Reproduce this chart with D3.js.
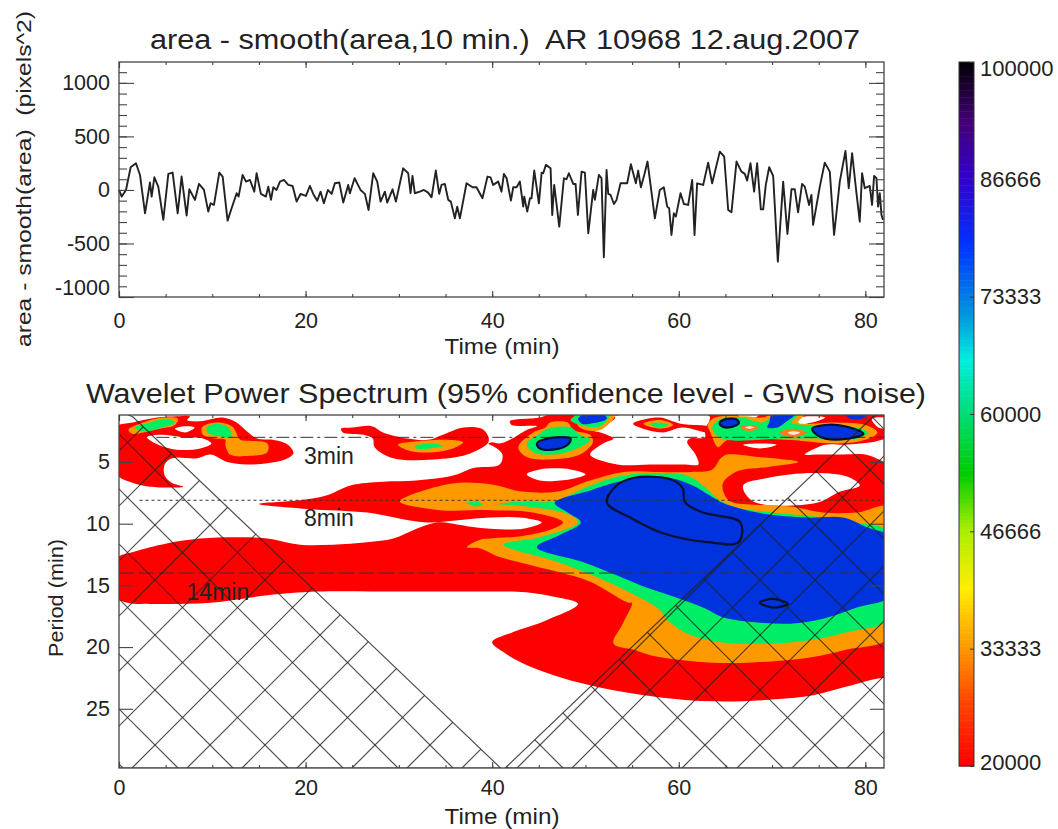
<!DOCTYPE html>
<html>
<head>
<meta charset="utf-8">
<script src="https://cdn.jsdelivr.net/npm/d3@7"></script>
<style>
  body { margin: 0; background: #fff; }
  svg { display: block; }
  text { font-family: "Liberation Sans", Arial, sans-serif; fill: #222; white-space: pre; }
</style>
</head>
<body>
<div id="chart"></div>
<script>
// top panel: area minus smoothed area
const seriesTime = [0,0.29,0.75,1.25,1.82,2.25,2.79,3.32,3.5,3.79,4.21,4.75,5.29,5.75,6.29,6.71,7.25,7.54,8.14,8.57,9.11,9.57,9.82,10.18,10.75,11.11,11.64,12.07,12.61,12.82,13.25,13.61,14.04,14.5,14.75,15.21,15.75,16,16.29,16.54,16.89,17.25,17.68,18.14,18.61,19.04,19.46,20.04,20.46,20.82,21.25,21.61,21.96,22.39,22.79,23.14,23.61,24.04,24.57,24.75,25.25,25.89,26.36,26.75,27.25,27.68,28.04,28.5,28.75,29.32,29.68,30.46,31,31.25,31.46,31.71,32.25,32.68,33.14,33.5,33.96,34.32,34.57,34.93,35.29,35.57,36,36.25,36.54,37.25,37.89,38.32,38.96,39.5,39.82,40.1,40.65,41,41.26,41.55,42.01,42.26,42.62,42.97,43.33,43.44,43.76,44.05,44.22,44.51,45.01,45.3,45.47,45.76,46.26,46.44,46.65,47.19,47.69,47.97,48.22,48.69,48.94,49.19,49.58,49.94,50.3,50.83,51.01,51.44,51.72,51.97,52.26,52.44,52.69,53.05,53.33,53.76,54.47,54.87,55.4,55.65,55.94,56.3,56.65,57.01,57.44,57.97,58.4,58.76,58.97,59.22,59.47,59.69,60.19,60.55,61.01,61.44,61.69,61.97,62.62,63.15,63.58,64.4,64.87,65.3,65.65,66.19,66.72,67.08,67.33,67.69,68.08,68.4,68.8,69.05,69.33,69.69,70.12,70.62,71.19,71.65,72.08,72.44,72.79,73.22,73.51,73.97,74.22,74.4,75.12,75.65,76.19,76.65,77.26,77.87,78.22,78.58,79.05,79.4,79.65,79.94,80.47,80.72,80.94,81.19,81.37,81.55,81.73,81.9];
const seriesArea = [0,-62,0,212,249,140,-218,69,-62,118,31,-280,150,162,-218,125,-240,6,-93,56,0,-202,-125,-140,162,125,-287,-171,-31,-62,140,78,93,-16,156,-37,-62,31,-93,25,0,78,93,47,37,-109,-37,-56,37,-37,-100,-16,-125,0,-37,62,69,-118,47,-31,109,0,-37,-187,156,78,-109,-16,-118,6,-109,202,156,-31,131,-31,-16,0,-25,-69,181,-37,47,56,-93,-109,-265,-156,-265,62,25,25,-78,125,118,47,78,-16,150,109,-100,25,25,78,-156,-62,-202,-78,-78,181,-125,162,156,234,202,-234,47,-343,109,100,156,56,56,-234,171,162,-405,0,-93,140,109,-629,187,-37,-47,-131,-93,62,62,240,62,181,25,140,265,25,-265,0,25,-156,-171,-421,-218,-249,-31,-131,-140,93,-421,62,47,255,62,358,311,-187,-209,265,171,150,87,249,-16,249,-181,-181,47,212,131,-670,78,-411,6,6,-209,56,31,-140,-47,-327,31,255,171,-421,78,364,16,343,-31,-296,156,16,37,-140,131,109,-156,-31,-234,-280];

// wavelet power contours as [time, period] rings, one array per level
const redRings = [
  [[15,8.4],[19.4,8.1],[22.3,7.7],[24.8,6.9],[28.3,6.6],[31.9,6.5],[35.8,6.1],[37.9,5.5],[40.8,5.2],[41.1,4.4],[40.5,3.9],[39.6,3.5],[40,3.4],[40.8,3.5],[41.9,3.2],[43.7,2.4],[44.8,2.1],[42.1,2],[41.9,1.7],[45.1,1.4],[46.4,1.1],[62.3,0.8],[82.7,0.8],[83.2,22.7],[81.9,22.5],[78,23.2],[74.4,23.9],[69,24.3],[63.7,24.4],[58.3,24.1],[53,23.5],[49.4,22.9],[45.9,22.1],[43,21.2],[41.2,20.4],[40,19.6],[42.2,18.8],[45.9,17.8],[49.2,16.5],[46.5,15.9],[44.1,15.6],[42.2,15.5],[39.8,15.5],[30.1,15.5],[21.2,15.5],[15.9,15.8],[9.8,16.4],[3.3,16.5],[0.9,16.4],[-0.4,15.9],[-0.4,12.9],[1.5,12.3],[5.1,11.6],[8.7,11.2],[13,11.1],[15.9,11.2],[19.4,11.7],[22.9,11.7],[26.6,11.5],[29.4,11.2],[31.9,10.4],[34.1,9.9],[37.3,10.2],[39.8,10.4],[43.3,10.4],[45.3,9.9],[43,9.5],[39.8,9.5],[36.6,9.7],[33.3,9.9],[30.9,9.7],[26.6,9.1],[20.2,8.8]],
  [[-0.4,2.2],[1.5,1.8],[4.1,1.4],[6.2,1.3],[7.6,1.3],[7.3,1.6],[8.7,1.7],[11.1,1.4],[12.6,1.8],[13.7,2.5],[14.8,3.1],[16.5,3.2],[18.1,3.6],[18.7,4.3],[17.8,4.8],[15.9,5.1],[13.7,5.2],[11.6,5],[9.8,4.4],[8.4,4.7],[5.7,4.7],[4.9,5.2],[4.9,6.1],[5.7,6.7],[6.9,7],[3.3,7],[1.5,6.7],[-0.4,5.9]],
  [[23.8,2.3],[25.1,2.2],[27.1,2.1],[28.3,2.6],[30.9,3.1],[33.1,3.2],[35.3,2.6],[36.9,2.2],[38.9,2.3],[39.5,2.8],[39.6,3.4],[37.3,4.4],[33.7,4.8],[29.4,4.7],[27.4,3.8],[27.2,3.1],[26.2,2.8],[24,2.6]]
];
const lowPowerGaps = [
  [[52.9,1.3],[63.3,1.3],[62.8,2.4],[62.8,3],[61.2,3.1],[60.9,3.4],[61.8,4.4],[62.1,5.2],[60.7,5.2],[56.9,5.2],[53.4,5.2],[50.5,4.4],[51.9,3.5],[53,3.1],[51.6,2.6],[50.5,2.4],[51.9,2.1],[53.2,1.4]],
  [[43.7,6],[45.1,5.6],[48.4,5.6],[50,6],[48.4,6.4],[45.1,6.5]],
  [[66.9,3.6],[68.7,3.5],[70.5,3.6],[68.7,3.9]],
  [[73.5,4.4],[75.7,3.6],[77.8,3.6],[80.7,3.4],[82.7,3.2],[82.7,5],[80,4.4],[77.5,4.4],[74.9,4.4]],
  [[72.8,1.5],[73.9,1.3],[75.7,1.4],[74.3,1.8],[72.8,1.9]],
  [[80.7,1.5],[82.5,1.5],[82.5,2.2],[81.4,2.2]],
  [[66.3,1.1],[68.7,1.1],[67.6,1.6],[66.8,1.5]],
  [[66.9,6.9],[69.5,6.3],[74.4,5.9],[78.1,6.2],[79.4,6.9],[77.3,7.4],[74.8,8.3],[68,8.2]],
  [[3,3],[4.4,2.8],[6.9,3],[9,3.1],[9.9,3.5],[8.7,3.9],[6.2,4],[4.2,3.6]],
  [[6,2.3],[7.1,2.1],[8.1,2.2],[7.1,2.6]]
];
const redIslands = [
  [[55.1,1.9],[56.6,1.5],[58,1.4],[60.2,1.9],[63.4,2.2],[63.4,2.6],[60.4,2.2],[58.3,2.6],[56.2,2.3]]
];
const orangeRings = [
  [[30.1,8.2],[32.3,7.4],[36.2,6.7],[39.8,6.8],[43.3,7.4],[47,7.4],[50.5,6.5],[54.1,5.8],[57.5,5.8],[61.3,5.8],[63.6,5.6],[64.5,4.7],[65.2,4.4],[68.6,4.6],[72.8,5],[69.6,5.4],[66.1,5.8],[64.7,6.8],[65.2,8],[65.9,8.3],[72,8.6],[75.5,9.1],[79.1,9.1],[82.7,8.7],[82.7,19.1],[78,20.2],[74.4,20.8],[70.9,21.1],[65.5,21.3],[60.9,21.1],[57.2,20.7],[55.1,20.2],[53,19.7],[54,18.1],[55,16.4],[54.6,16.4],[50.5,14.7],[47,13.9],[43.3,13.2],[40.8,12.7],[38.7,12],[37.3,11.9],[38.7,11.3],[39.8,11.2],[43.3,11],[46.2,10.5],[47.6,9.9],[44.4,9.1],[39.8,8.9],[34.4,8.9]],
  [[42.8,3.8],[44.4,2.6],[45.7,2.2],[46.2,1.8],[48.1,1.8],[48.7,2.4],[50.5,2.8],[50.8,3.4],[49.4,4.4],[46.2,4.8],[43.7,4.6]],
  [[48.9,1.1],[53.2,1.1],[51.6,2.4],[49.4,2.2]],
  [[56.2,1.9],[58,1.6],[59.4,2],[58,2.3]],
  [[1,2.4],[2.6,1.8],[4.7,1.4],[6.3,1.5],[6,2],[4.4,2.3],[2.6,2.6],[1.4,2.7]],
  [[8.9,2.2],[10.3,1.8],[12.1,2.1],[12.8,3],[13,3.2],[15.9,3.5],[15.9,4.2],[14,4.5],[11.9,4.4],[11.4,3.6],[11.4,3.2],[10.3,3.1],[9,2.8]],
  [[29.9,3.6],[32.3,3.3],[35.2,3.2],[36.9,3.4],[35.8,3.9],[33.7,4.2],[31.2,4.1]],
  [[63.1,2],[63.9,1.4],[67.1,1.3],[68.9,1.4],[70.3,1.1],[73.5,1.1],[72.8,1.8],[76.8,1.8],[80,2],[81.3,2.6],[80,3.2],[77.1,3.5],[71.4,3.2],[65.3,3.2],[64.2,3.8],[63.7,3.2],[63.4,2.6]]
];
const greenRings = [
  [[40.5,8.4],[43.7,8.2],[46.5,8.2],[50.5,6.9],[54,6.1],[57.7,5.9],[60.9,6.1],[62.6,6.9],[64.4,8.1],[66.3,8.7],[70.1,9.1],[75.5,9.5],[79.1,9.9],[82.7,10.8],[82.7,17.6],[78,18.8],[74.4,19.4],[70.1,19.7],[64.4,19.6],[60.9,18.9],[58.8,17.8],[58,17],[54.8,15.6],[50.8,14.2],[47,13.1],[41.2,11.7],[45.1,11.1],[49.2,9.9],[48.4,9.3],[43.7,8.6]],
  [[43.7,3.5],[45.1,2.7],[46,2.3],[48.4,2.2],[49.4,2.8],[50.5,3.2],[49.1,3.9],[46.5,4.4],[44.4,4.2]],
  [[48.4,1.6],[49.4,1.1],[52.6,1.1],[51.6,2.1],[49.4,2]],
  [[56.9,1.9],[58,1.8],[58.9,2],[57.8,2.2]],
  [[1.7,2.2],[3.3,1.8],[5.1,1.5],[6,1.8],[4.7,2.2],[2.6,2.5]],
  [[9.4,2.2],[10.5,1.9],[11.7,2.2],[12.1,3],[10.6,2.9],[9.5,2.6]],
  [[31.7,3.7],[33.7,3.5],[34.7,3.7],[33.3,3.9],[31.9,3.9]],
  [[63.6,2.3],[64.2,1.6],[66.8,1.4],[68.9,1.8],[70.6,1.1],[72.8,1.1],[72.1,1.8],[73.5,2],[75.7,2],[77.5,2],[80.3,2.6],[79.2,3.1],[77.5,3.2],[74.6,3.1],[71.4,3.1],[64.6,3.1]],
  [[37.3,8.3],[38.2,8.2],[39,8.4],[38.2,8.6]]
];
const smallRingOuter = [
  [[66.6,2.2],[67.4,2],[68.6,2.2],[67.6,2.5]],
  [[70.8,2.6],[72.2,2.3],[73.7,2.6],[72.2,3]]
];
const smallRingInner = [
  [[67.1,2.2],[67.6,2.1],[68.1,2.2],[67.6,2.3]],
  [[71.7,2.6],[72.2,2.5],[73,2.6],[72.2,2.8]]
];
const blueRings = [
  [[46.7,8.3],[50.5,7.3],[53,6.7],[56.6,6.2],[59.1,6.3],[61.5,6.9],[63.3,7.7],[64.7,8.3],[68.4,9.1],[73.7,9.5],[77.6,9.5],[80.2,10.3],[82.7,11.1],[82.7,15.8],[79.1,16.8],[75.5,17.7],[72,18.1],[68.4,18],[64.8,17.6],[62.6,16.8],[59.8,16],[56.6,15.2],[53.4,14.2],[49.7,13.1],[44.8,11.9],[47.3,10.9],[49.5,9.9],[48.1,9.1]],
  [[49.2,1.5],[50,1.1],[51.9,1.1],[52.3,1.5],[50.5,1.9],[49.6,1.9]],
  [[69.7,1.8],[70,1.1],[72.5,1.1],[71.4,1.8],[70.6,2.2],[69.5,2.2]],
  [[77.8,1.1],[80.3,1.1],[79.6,1.5],[78.4,1.5]]
];
// regions above the 95% level get the black outline
const confidenceRings = [
  [[52.3,8.3],[53.2,7],[55.1,6.3],[59.1,6.4],[60.4,7.1],[60.7,8.3],[62.6,9.1],[66.6,9.9],[66.4,11.5],[63.1,11.5],[58.4,10.8],[54.8,9.5]],
  [[68.7,16.4],[70.1,16.1],[71.7,16.5],[70.1,16.8]],
  [[44.8,3.5],[45.9,3.1],[48.4,3.1],[48.1,3.6],[46.5,4],[45.1,3.9]],
  [[64.4,1.8],[65.2,1.5],[66.3,1.6],[66.4,1.9],[65.3,2.2],[64.6,2.1]],
  [[74.3,2.3],[75.7,2],[77.8,2.1],[79.8,2.7],[78.1,3.1],[75.7,3.1],[74.8,2.8]]
];

// cone of influence, left and right wedge
const coneLeft = [[-1,0.5],[1.5,1.35],[40.9,29.8],[-1,29.8]];
const coneRight = [[41.4,29.8],[80.8,1.35],[83,0.5],[83,29.8]];

const periodLines = [3, 8.1, 14];
const periodLineStart = [4, 2.2, 0];
const periodLineDash = ["13,4,3,4", "3,3", "15,5"];
const periodLabels = ["3min", "8min", "14min"];
const periodLabelTime = [22.5, 22.5, 10.6];
const periodLabelPeriod = [4.5, 9.5, 15.5];

const timeTicks = [0, 20, 40, 60, 80];
const areaTicks = [1000, 500, 0, -500, -1000];
const periodTicks = [5, 10, 15, 20, 25];
const powerTicks = [100000, 86666, 73333, 60000, 46666, 33333, 20000];
const powerStops = [20000, 27000, 33333, 40000, 46666, 53000, 60000, 66000, 71000, 79000, 86666, 93000, 100000];
const powerColors = ["#ff0000","#ff4400","#ff9900","#ffee00","#aaee00","#00cc00","#00dd77","#00eedd","#0099dd","#0033ff","#3300cc","#440077","#000000"];

const width = 1058, height = 829;
const x0 = 119, x1 = 884;
const tickFont = 21.5;
const plainNumber = d3.format("d");

const svg = d3.select("#chart").append("svg")
  .attr("width", width)
  .attr("height", height);

const xScale = d3.scaleLinear().domain([0, 82]).range([x0, x1]);
const yArea = d3.scaleLinear().domain([-1000, 1195]).range([297, 62]);
const yPeriod = d3.scaleLinear().domain([1.19, 29.8]).range([415, 768]);
const yPower = d3.scaleLinear().domain([20000, 100000]).range([766, 62]);
const powerColor = d3.scaleLinear().domain(powerStops).range(powerColors);

// axes with ticks pointing into the panel, on all four sides
function frameAxes(yScale, yT, yB, yTicks, yMinor, xPad, yLen, yMinorLen) {
  const g = svg.append("g").attr("class", "frame");
  const minorTime = d3.range(0, 82, 5);

  g.append("g").attr("transform", "translate(0," + yB + ")")
    .call(d3.axisBottom(xScale).tickValues(minorTime).tickSize(-3).tickFormat(""));
  g.append("g").attr("transform", "translate(0," + yB + ")")
    .call(d3.axisBottom(xScale).tickValues(timeTicks).tickSize(-6).tickPadding(xPad).tickFormat(plainNumber));
  g.append("g").attr("transform", "translate(0," + yT + ")")
    .call(d3.axisTop(xScale).tickValues(minorTime).tickSize(-3).tickFormat(""));
  g.append("g").attr("transform", "translate(0," + yT + ")")
    .call(d3.axisTop(xScale).tickValues(timeTicks).tickSize(-6).tickFormat(""));

  if (yMinor.length) {
    g.append("g").attr("transform", "translate(" + x0 + ",0)")
      .call(d3.axisLeft(yScale).tickValues(yMinor).tickSize(-yMinorLen).tickFormat(""));
    g.append("g").attr("transform", "translate(" + x1 + ",0)")
      .call(d3.axisRight(yScale).tickValues(yMinor).tickSize(-yMinorLen).tickFormat(""));
  }
  g.append("g").attr("class", "ylabels").attr("transform", "translate(" + x0 + ",0)")
    .call(d3.axisLeft(yScale).tickValues(yTicks).tickSize(-yLen).tickPadding(9).tickFormat(function(d) { return plainNumber(d).replace("\u2212", "-"); }));
  g.append("g").attr("transform", "translate(" + x1 + ",0)")
    .call(d3.axisRight(yScale).tickValues(yTicks).tickSize(-yLen).tickFormat(""));

  g.append("rect")
    .attr("x", x0).attr("y", yT)
    .attr("width", x1 - x0).attr("height", yB - yT)
    .attr("fill", "none").attr("stroke", "#444").attr("stroke-width", 1.3);

  g.selectAll(".domain").remove();
  g.selectAll(".tick line").attr("stroke", "#444").attr("stroke-width", 1.1);
  g.selectAll(".tick text").attr("font-size", tickFont).attr("fill", "#222");
  return g;
}

// top panel
const line = d3.line()
  .x(function(d, i) { return xScale(seriesTime[i]); })
  .y(function(d) { return yArea(d); });
svg.append("path")
  .datum(seriesArea)
  .attr("d", line)
  .attr("fill", "none")
  .attr("stroke", "#222")
  .attr("stroke-width", 1.9)
  .attr("stroke-linejoin", "round");

const topAxes = frameAxes(yArea, 62, 297, areaTicks, d3.range(-1000, 1200, 100), 16, 15, 8);
// lowest label sits a bit above its tick, as in the original
topAxes.select(".ylabels").selectAll(".tick text")
  .filter(function(d) { return d === -1000; })
  .attr("dy", "-0.14em");

svg.append("text")
  .attr("x", 505).attr("y", 49)
  .attr("text-anchor", "middle")
  .attr("font-size", 27)
  .attr("textLength", 710).attr("lengthAdjust", "spacingAndGlyphs")
  .text("area - smooth(area,10 min.)  AR 10968 12.aug.2007");
svg.append("text")
  .attr("x", 502).attr("y", 354)
  .attr("text-anchor", "middle")
  .attr("font-size", 22)
  .attr("textLength", 115).attr("lengthAdjust", "spacingAndGlyphs")
  .text("Time (min)");
svg.append("text")
  .attr("transform", "translate(31,179) rotate(-90)")
  .attr("text-anchor", "middle")
  .attr("font-size", 20)
  .attr("textLength", 336).attr("lengthAdjust", "spacingAndGlyphs")
  .text("area - smooth(area)  (pixels^2)");

// wavelet panel
svg.append("clipPath").attr("id", "panelClip")
  .append("rect")
  .attr("x", x0).attr("y", 415)
  .attr("width", x1 - x0).attr("height", 768 - 415);

const ring = d3.line()
  .x(function(d) { return xScale(d[0]); })
  .y(function(d) { return yPeriod(d[1]); })
  .curve(d3.curveCatmullRomClosed.alpha(0.5));

const panel = svg.append("g").attr("clip-path", "url(#panelClip)");

function drawRings(rings, color) {
  panel.append("g").selectAll("path")
    .data(rings).enter().append("path")
    .attr("d", ring)
    .attr("fill", color);
}
drawRings(redRings, "#ff0000");
drawRings(lowPowerGaps, "#ffffff");
drawRings(redIslands, "#ff0000");
drawRings(orangeRings, "#ff9900");
drawRings(greenRings, "#00ee66");
drawRings(smallRingOuter, "#ff7a1a");
drawRings(smallRingInner, "#ffe6d0");
drawRings(blueRings, "#0033dd");
drawRings(confidenceRings.slice(2), "#0033dd");

panel.append("g").selectAll("line")
  .data(periodLines).enter().append("line")
  .attr("x1", function(d, i) { return xScale(periodLineStart[i]); })
  .attr("x2", x1)
  .attr("y1", function(d) { return yPeriod(d); })
  .attr("y2", function(d) { return yPeriod(d); })
  .attr("stroke", "#333")
  .attr("stroke-width", 1)
  .attr("stroke-dasharray", function(d, i) { return periodLineDash[i]; });

// hatching over the cone of influence
const hatchStep = 55;
const coneLine = d3.line()
  .x(function(d) { return xScale(d[0]); })
  .y(function(d) { return yPeriod(d[1]); });
[coneLeft, coneRight].forEach(function(cone, i) {
  svg.append("clipPath").attr("id", "coneClip" + i)
    .append("path").attr("d", coneLine(cone) + "Z");
  const hatch = panel.append("g").attr("clip-path", "url(#coneClip" + i + ")");
  d3.range(-16, 20).forEach(function(k) {
    const s = 680 + k * hatchStep, d = 315 + k * hatchStep;
    hatch.append("line")
      .attr("x1", 100).attr("y1", s - 100)
      .attr("x2", 900).attr("y2", s - 900);
    hatch.append("line")
      .attr("x1", 100).attr("y1", d + 100)
      .attr("x2", 900).attr("y2", d + 900);
  });
  hatch.selectAll("line")
    .attr("stroke", "#222")
    .attr("stroke-opacity", 0.8)
    .attr("stroke-width", 1.2);
  panel.append("path")
    .attr("d", coneLine(cone) + "Z")
    .attr("fill", "none")
    .attr("stroke", "#222")
    .attr("stroke-opacity", 0.8)
    .attr("stroke-width", 1.2);
});

panel.append("g").selectAll("path")
  .data(confidenceRings).enter().append("path")
  .attr("d", ring)
  .attr("fill", "none")
  .attr("stroke", "#001030")
  .attr("stroke-width", 2.2);

svg.append("g").selectAll("text")
  .data(periodLabels).enter().append("text")
  .attr("x", function(d, i) { return xScale(periodLabelTime[i]); })
  .attr("y", function(d, i) { return yPeriod(periodLabelPeriod[i]); })
  .attr("text-anchor", "middle")
  .attr("dy", "0.35em")
  .attr("font-size", 23)
  .text(function(d) { return d; });

frameAxes(yPeriod, 415, 768, periodTicks, [], 12, 14, 0);

svg.append("text")
  .attr("x", 506).attr("y", 403)
  .attr("text-anchor", "middle")
  .attr("font-size", 27)
  .attr("textLength", 840).attr("lengthAdjust", "spacingAndGlyphs")
  .text("Wavelet Power Spectrum (95% confidence level - GWS noise)");
svg.append("text")
  .attr("x", 502).attr("y", 824)
  .attr("text-anchor", "middle")
  .attr("font-size", 22)
  .attr("textLength", 115).attr("lengthAdjust", "spacingAndGlyphs")
  .text("Time (min)");
svg.append("text")
  .attr("transform", "translate(63,598) rotate(-90)")
  .attr("text-anchor", "middle")
  .attr("font-size", 21)
  .attr("textLength", 118).attr("lengthAdjust", "spacingAndGlyphs")
  .text("Period (min)");

// colour bar
const barX = 959, barW = 15;
const barSteps = d3.range(20000, 100000, 400);
svg.append("g").selectAll("rect")
  .data(barSteps).enter().append("rect")
  .attr("x", barX)
  .attr("y", function(d) { return yPower(d + 400); })
  .attr("width", barW)
  .attr("height", function(d) { return yPower(d) - yPower(d + 400) + 0.5; })
  .attr("fill", function(d) { return powerColor(d); });
svg.append("rect")
  .attr("x", barX).attr("y", 62)
  .attr("width", barW).attr("height", 704)
  .attr("fill", "none").attr("stroke", "#333").attr("stroke-width", 1);

const barAxis = svg.append("g")
  .attr("transform", "translate(" + (barX + barW) + ",0)")
  .call(d3.axisRight(yPower).tickValues(powerTicks).tickSize(-4).tickPadding(6).tickFormat(plainNumber));
barAxis.select(".domain").remove();
barAxis.selectAll(".tick line").attr("stroke", "#333");
barAxis.selectAll(".tick text")
  .attr("font-size", 22).attr("fill", "#222")
  .attr("dy", function(d) {
    if (d === 100000) return "0.6em";
    if (d === 20000) return "0.15em";
    return "0.32em";
  });
</script>
</body>
</html>
